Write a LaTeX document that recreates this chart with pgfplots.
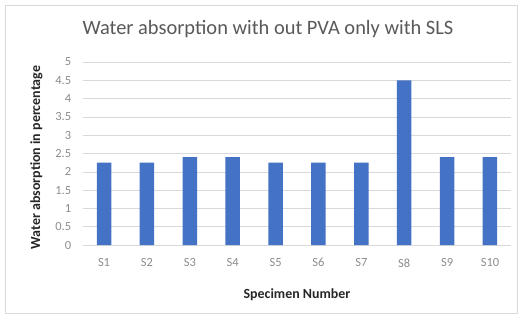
\documentclass[border=0pt]{standalone}
\usepackage{fontspec}
\setmainfont{Carlito}
\usepackage{pgfplots}
\pgfplotsset{compat=1.18}
\definecolor{barblue}{HTML}{4472C4}
\definecolor{txtgray}{HTML}{595959}
\definecolor{tickgray}{HTML}{8C8C8C}
\definecolor{gridgray}{HTML}{D9D9D9}
\begin{document}
\begin{tikzpicture}[x=1bp,y=1bp]
\path[use as bounding box] (0,0) rectangle (522,318);
\draw[gridgray, line width=0.6bp] (5,5) rectangle (517,313);
\node[txtgray, font=\fontsize{20.5}{24}\selectfont] at (268,289) {Water absorption with out PVA only with SLS};
\begin{axis}[
  at={(82.6bp,73bp)}, anchor=south west,
  scale only axis, width=428.8bp, height=183bp,
  ymin=0, ymax=5, ytick={0,0.5,...,5},
  xmin=0.5, xmax=10.5,
  xtick={1,...,10},
  xticklabels={S1,S2,S3,S4,S5,S6,S7,S8,S9,S10},
  ybar, bar width=14.5bp,
  axis line style={draw=none},
  axis x line*=bottom, axis y line*=left,
  x axis line style={draw=gridgray},
  ymajorgrids, grid style={gridgray, line width=0.5bp},
  major tick length=0pt,
  tick label style={tickgray, font=\fontsize{12.5}{14}\selectfont},
  xticklabel style={yshift=-10bp},
  yticklabel style={xshift=-8bp},
  /pgf/number format/assume math mode=true,
  xlabel={\textbf{Specimen Number}},
  ylabel={\textbf{Water absorption in percentage}},
  label style={black!85, font=\fontsize{14}{16}\selectfont},
  xlabel style={at={(axis description cs:0.5,0)}, anchor=center, yshift=-50bp},
  ylabel style={yshift=6bp, xshift=-4bp},
  clip=false,
]
\addplot[fill=barblue, draw=none] coordinates {
(1,2.25) (2,2.25) (3,2.4) (4,2.4) (5,2.25) (6,2.25) (7,2.25) (8,4.5) (9,2.4) (10,2.4)
};
\end{axis}
\end{tikzpicture}
\end{document}
